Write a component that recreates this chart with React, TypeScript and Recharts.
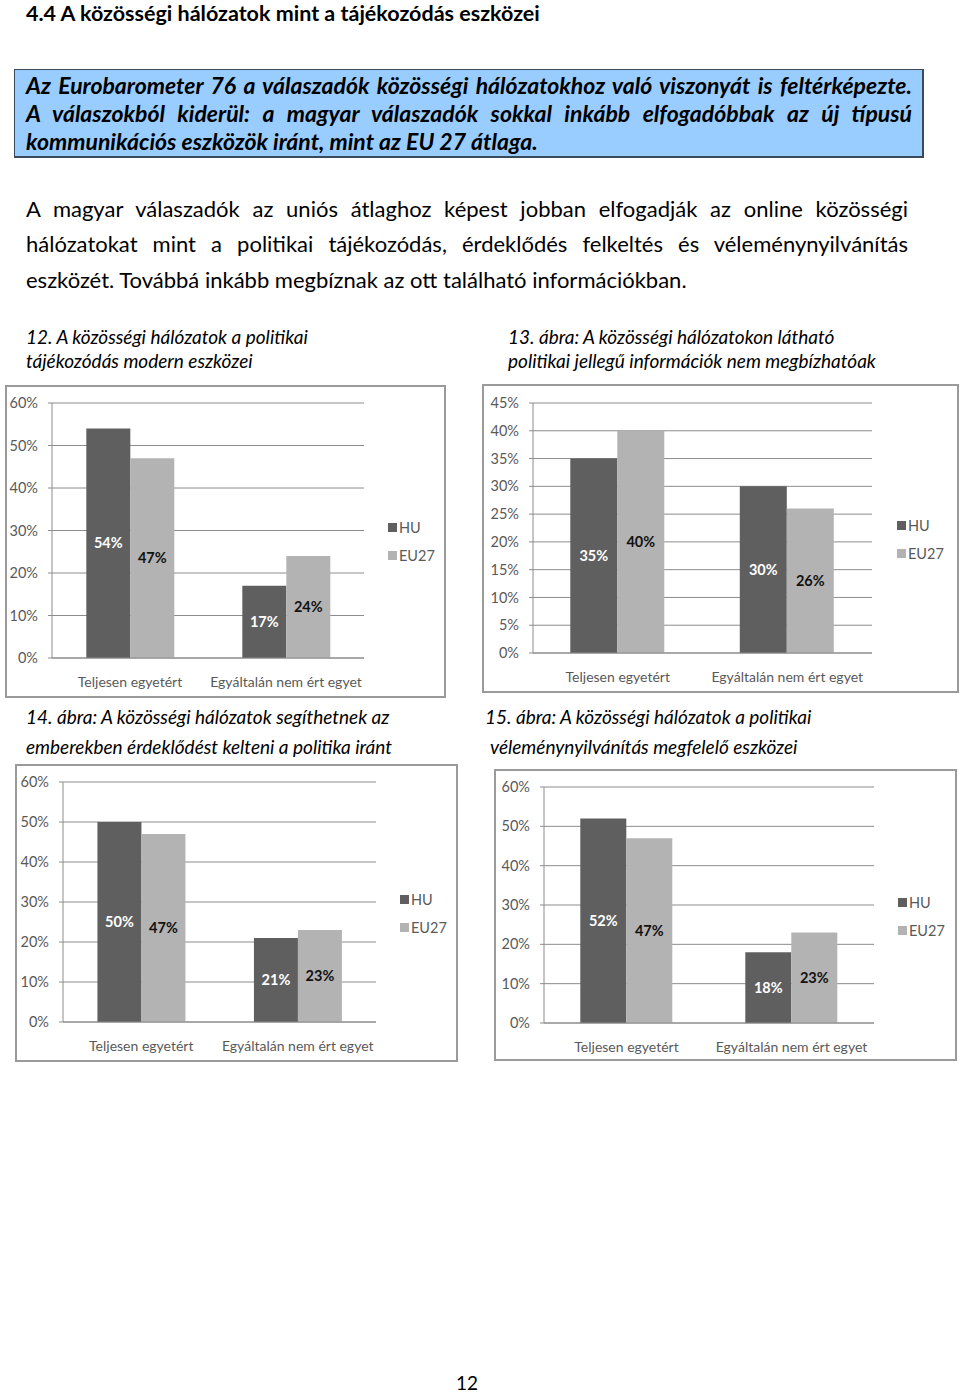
import React from "react";
import { BarChart, Bar, XAxis, YAxis, CartesianGrid, Legend, LabelList } from "recharts";

const categories = ["Teljesen egyetért", "Egyáltalán nem ért egyet"];
const seriesNames = ["HU", "EU27"];

const fig12HU = [54, 17];
const fig12EU = [47, 24];
const fig13HU = [35, 30];
const fig13EU = [40, 26];
const fig14HU = [50, 21];
const fig14EU = [47, 23];
const fig15HU = [52, 18];
const fig15EU = [47, 23];

const ticks60 = [0, 10, 20, 30, 40, 50, 60];
const ticks45 = [0, 5, 10, 15, 20, 25, 30, 35, 40, 45];

const HU_COLOR = "#5f5f5f";
const EU_COLOR = "#b3b3b3";
const AXIS_TEXT = "#595959";
const FONT = "Lato, 'Open Sans', sans-serif";

type PanelProps = {
  x: number; y: number; w: number; h: number;
  hu: number[]; eu: number[]; ticks: number[];
  plot: { left: number; top: number; right: number; bottom: number };
  legend: { left: number; top: number };
};

function buildRows(hu: number[], eu: number[]) {
  return categories.map((c, i) => ({ name: c, HU: hu[i], EU27: eu[i] }));
}

const LegendContent = () => (
  <div style={{ fontFamily: FONT, fontSize: 14.5, color: AXIS_TEXT }}>
    {seriesNames.map((n, i) => (
      <div key={n} style={{ display: "flex", alignItems: "center", height: 28 }}>
        <span style={{ display: "inline-block", width: 9, height: 9, background: i === 0 ? HU_COLOR : EU_COLOR, marginRight: 2 }} />
        <span>{n}</span>
      </div>
    ))}
  </div>
);

function Panel({ x, y, w, h, hu, eu, ticks, plot, legend }: PanelProps) {
  const data = buildRows(hu, eu);
  const xAxisH = 30;
  return (
    <div style={{ position: "absolute", left: x, top: y, width: w, height: h, border: "2px solid #9a9a9a", boxSizing: "border-box", background: "#fff" }}>
      <div style={{ position: "absolute", left: -2, top: -2 }}>
        <BarChart
          width={w}
          height={h}
          data={data}
          margin={{ top: plot.top, right: plot.right, bottom: plot.bottom - xAxisH, left: 0 }}
          barCategoryGap="22%"
          barGap={0}
        >
          <CartesianGrid vertical={false} stroke="#8c8c8c" strokeWidth={1} />
          <XAxis
            dataKey="name"
            height={xAxisH}
            tickLine={false}
            axisLine={{ stroke: "#8c8c8c" }}
            tickMargin={13}
            tick={{ fill: AXIS_TEXT, fontSize: 14, fontFamily: FONT }}
            interval={0}
          />
          <YAxis
            width={plot.left}
            domain={[ticks[0], ticks[ticks.length - 1]]}
            ticks={ticks}
            tickFormatter={(v: number) => `${v}%`}
            tickSize={4}
            tickMargin={10}
            tickLine={{ stroke: "#8c8c8c" }}
            axisLine={{ stroke: "#8c8c8c" }}
            tick={{ fill: AXIS_TEXT, fontSize: 14.5, fontFamily: FONT }}
            interval={0}
          />
          <Legend
            layout="vertical"
            align="center"
            verticalAlign="middle"
            content={LegendContent}
            wrapperStyle={{ left: legend.left, top: legend.top, width: 60 }}
          />
          <Bar dataKey="HU" name="HU" fill={HU_COLOR} isAnimationActive={false}>
            <LabelList dataKey="HU" position="center" formatter={(v: number) => `${v}%`} fill="#ffffff" fontSize={14.5} fontWeight={700} fontFamily={FONT} />
          </Bar>
          <Bar dataKey="EU27" name="EU27" fill={EU_COLOR} isAnimationActive={false}>
            <LabelList dataKey="EU27" position="center" formatter={(v: number) => `${v}%`} fill="#111111" fontSize={14.5} fontWeight={700} fontFamily={FONT} />
          </Bar>
        </BarChart>
      </div>
    </div>
  );
}

const T = ({ x, y, children, style }: { x: number; y: number; children: React.ReactNode; style?: React.CSSProperties }) => (
  <div style={{ position: "absolute", left: x, top: y, whiteSpace: "nowrap", ...style }}>{children}</div>
);

const JLine = ({ x, y, w, children, style }: { x: number; y: number; w: number; children: React.ReactNode; style?: React.CSSProperties }) => (
  <div style={{ position: "absolute", left: x, top: y, width: w, textAlign: "justify", textAlignLast: "justify", whiteSpace: "nowrap", ...style }}>{children}</div>
);

export default function App() {
  const body: React.CSSProperties = { fontFamily: FONT, fontSize: 22, lineHeight: "24px", color: "#000" };
  const boxText: React.CSSProperties = { ...body, fontSize: 23, fontWeight: 700, fontStyle: "italic" };
  const cap: React.CSSProperties = { fontFamily: FONT, fontSize: 19, lineHeight: "22px", fontStyle: "italic", color: "#000" };
  return (
    <div style={{ position: "absolute", left: 0, top: 0, width: 960, height: 1393, background: "#fff", overflow: "hidden" }}>
      <T x={26} y={0} style={{ ...body, fontSize: 21.5, lineHeight: "normal", fontWeight: 700 }}>4.4 A közösségi hálózatok mint a tájékozódás eszközei</T>

      <div style={{ position: "absolute", left: 14, top: 69, width: 910, height: 89, background: "#99ccff", border: "1px solid #3a4a5a", borderRightWidth: 2, borderBottomWidth: 2, boxSizing: "border-box" }} />
      <JLine x={26} y={73} w={886} style={boxText}>Az Eurobarometer 76 a válaszadók közösségi hálózatokhoz való viszonyát is feltérképezte.</JLine>
      <JLine x={26} y={101} w={886} style={boxText}>A válaszokból kiderül: a magyar válaszadók sokkal inkább elfogadóbbak az új típusú</JLine>
      <T x={26} y={129} style={boxText}>kommunikációs eszközök iránt, mint az EU 27 átlaga.</T>

      <JLine x={26} y={197} w={882} style={body}>A magyar válaszadók az uniós átlaghoz képest jobban elfogadják az online közösségi</JLine>
      <JLine x={26} y={232} w={882} style={body}>hálózatokat mint a politikai tájékozódás, érdeklődés felkeltés és véleménynyilvánítás</JLine>
      <T x={26} y={268} style={body}>eszközét.  Továbbá inkább megbíznak az ott található információkban.</T>

      <T x={26} y={326} style={cap}>12. A közösségi hálózatok a politikai</T>
      <T x={26} y={350} style={cap}>tájékozódás modern eszközei</T>
      <T x={508} y={326} style={cap}>13. ábra: A közösségi hálózatokon látható</T>
      <T x={508} y={350} style={cap}>politikai jellegű információk nem megbízhatóak</T>

      <Panel x={5} y={385} w={441} h={313} hu={fig12HU} eu={fig12EU} ticks={ticks60}
        plot={{ left: 47, top: 18, right: 82, bottom: 40 }} legend={{ left: 383, top: 128 }} />
      <Panel x={482} y={384} w={477} h={309} hu={fig13HU} eu={fig13EU} ticks={ticks45}
        plot={{ left: 51, top: 19, right: 87, bottom: 40 }} legend={{ left: 415, top: 127 }} />

      <T x={26} y={706} style={cap}>14. ábra: A közösségi hálózatok segíthetnek az</T>
      <T x={26} y={736} style={cap}>emberekben érdeklődést kelteni a politika iránt</T>
      <T x={485} y={706} style={cap}>15. ábra: A közösségi hálózatok a politikai</T>
      <T x={490} y={736} style={cap}>véleménynyilvánítás megfelelő eszközei</T>

      <Panel x={15} y={764} w={443} h={298} hu={fig14HU} eu={fig14EU} ticks={ticks60}
        plot={{ left: 48, top: 18, right: 82, bottom: 40 }} legend={{ left: 385, top: 121 }} />
      <Panel x={494} y={769} w={463} h={292} hu={fig15HU} eu={fig15EU} ticks={ticks60}
        plot={{ left: 50, top: 18, right: 83, bottom: 38 }} legend={{ left: 404, top: 119 }} />

      <T x={456} y={1373} style={{ ...body, fontSize: 19, lineHeight: "19px" }}>12</T>
    </div>
  );
}
